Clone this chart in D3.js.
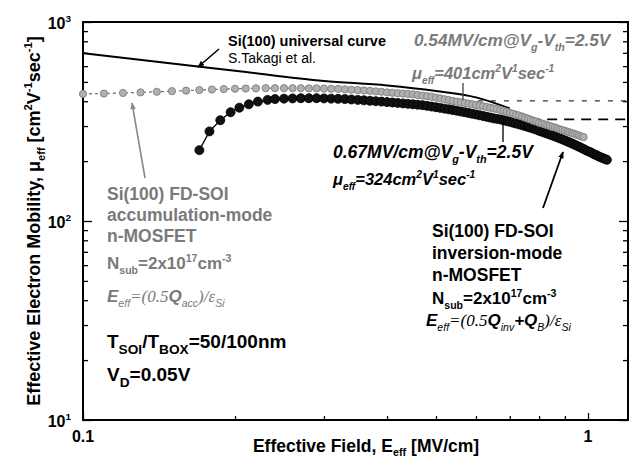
<!DOCTYPE html>
<html><head><meta charset="utf-8">
<script src="https://cdn.jsdelivr.net/npm/d3@7"></script>
<style>body{margin:0;background:#fff}svg{display:block;font-family:"Liberation Sans",Arial,sans-serif}</style>
</head><body><svg id="c" width="635" height="461"></svg>
<script>
// ---------- data ----------
const accE = [0.10,0.11,0.12,0.13,0.14,0.15,0.16,0.17,0.18,0.19,0.20,0.21,0.22,0.23,0.24,0.25,0.26,0.27,0.28,0.29,0.30,0.31,0.32,0.33,0.34,0.35,0.36,0.37,0.38,0.39,0.40,0.41,0.42,0.43,0.44,0.45,0.46,0.47,0.48,0.49,0.50,0.51,0.52,0.53,0.54,0.55,0.56,0.57,0.58,0.59,0.60,0.61,0.62,0.63,0.64,0.65,0.66,0.67,0.68,0.69,0.70,0.71,0.72,0.73,0.74,0.75,0.76,0.77,0.78,0.79,0.80,0.81,0.82,0.83,0.84,0.85,0.86,0.87,0.88,0.89,0.90,0.91,0.92,0.93,0.94,0.95,0.96,0.97,0.98];
const accMu = [435,437,440,443,446,449,452,455,458,460,462,463,464,465,465,465,465,465,464,464,463,462,461,459,457,455,453,451,448,446,443,441,439,437,435,433,430,427,424,421,417,413,409,405,401,398,395,392,389,386,383,380,377,374,371,368,365,362,358,354,350,346,342,339,335,331,327,323,319,316,312,309,306,303,300,297,295,292,289,286,284,281,279,276,274,271,269,266,264];
const invE = [0.170,0.178,0.187,0.196,0.204,0.213,0.222,0.232,0.24,0.25,0.26,0.27,0.28,0.29,0.30,0.31,0.32,0.33,0.34,0.35,0.36,0.37,0.38,0.39,0.40,0.41,0.42,0.43,0.44,0.45,0.46,0.47,0.48,0.49,0.50,0.51,0.52,0.53,0.54,0.55,0.56,0.57,0.58,0.59,0.60,0.61,0.62,0.63,0.64,0.65,0.66,0.67,0.68,0.69,0.70,0.71,0.72,0.73,0.74,0.75,0.76,0.77,0.78,0.79,0.80,0.81,0.82,0.83,0.84,0.85,0.86,0.87,0.88,0.89,0.90,0.91,0.92,0.93,0.94,0.95,0.96,0.97,0.98,0.99,1.00,1.01,1.02,1.03,1.04,1.05,1.06,1.07,1.08,1.09];
const invMu = [227,282,321,352,371,386,398,406,410,412,413,414,414,414,413,412,411,410,408,406,404,402,400,398,396,394,392,390,388,386,384,382,379,376,373,370,367,364,361,358,355,352,349,346,343,340,337,334,331,328,326,324,321,318,315,312,309,306,303,300,297,294,291,288,284,281,278,275,272,269,266,263,260,257,254,251,248,245,242,239,236,233,230,227,224,222,219,216,214,211,209,207,205,203];
const univE = [0.1,0.15,0.2,0.3,0.4,0.5,0.6,0.7];
const univMu = [698,618,569,505,480,450,418,368];
const refE = [0.54,0.67];
const refMu = [401,324];
const xTicksMajor = [0.1,1];
const xTickLabels = ["0.1","1"];
const xTicksMinor = [0.2,0.3,0.4,0.5,0.6,0.7,0.8,0.9];
const yTicksMajor = [10,100,1000];
const yTickExp = ["1","2","3"];
const yTicksMinor = [20,30,40,50,60,70,80,90,200,300,400,500,600,700,800,900];

// ---------- setup ----------
const svg = d3.select("#c");
const L=83, R=628, T=22, B=420;
const x = d3.scaleLog().domain([0.1,1.2]).range([L,R]);
const y = d3.scaleLog().domain([10,1000]).range([B,T]);
const GRAY="#7a7a7a";

function rich(sel, px, py, parts, a) {
  const fs = a.size;
  const sc = a.subScale || 0.62;
  const t = sel.append("text").attr("x",px).attr("y",py)
    .attr("font-size",fs).attr("font-weight",a.weight||"bold")
    .attr("font-style",a.style||"normal").attr("fill",a.fill||"#000")
    .attr("text-anchor",a.anchor||"start");
  if (a.transform) t.attr("transform",a.transform);
  let cur=0;
  parts.forEach(p=>{
    const s=p[0], k=p[1], st=p[2];
    const off = k==="sub"? fs*(a.subOff||0.3) : k==="sup"? -fs*0.42 : 0;
    const ts = t.append("tspan").text(s).attr("dy",off-cur);
    if (k) ts.attr("font-size",fs*sc);
    if (st) Object.keys(st).forEach(kk=>ts.attr(kk,st[kk]));
    cur=off;
  });
  return t;
}

const defs = svg.append("defs");
[["ah-black","#000"],["ah-gray","#888"]].forEach(([id,c])=>{
  defs.append("marker").attr("id",id).attr("viewBox","0 0 10 10").attr("refX",9).attr("refY",5)
    .attr("markerWidth",7).attr("markerHeight",7).attr("orient","auto-start-reverse")
    .attr("markerUnits","userSpaceOnUse")
    .append("path").attr("d","M0,1 L10,5 L0,9 Z").attr("fill",c);
});

// ---------- axes ----------
const gAx = svg.append("g");
gAx.append("g").attr("transform",`translate(${L},0)`).call(d3.axisRight(y).tickValues(yTicksMajor).tickSize(9).tickFormat(""));
gAx.append("g").attr("transform",`translate(${L},0)`).call(d3.axisRight(y).tickValues(yTicksMinor).tickSize(5).tickFormat(""));
gAx.append("g").attr("transform",`translate(${R},0)`).call(d3.axisLeft(y).tickValues(yTicksMajor).tickSize(9).tickFormat(""));
gAx.append("g").attr("transform",`translate(${R},0)`).call(d3.axisLeft(y).tickValues(yTicksMinor).tickSize(5).tickFormat(""));
gAx.append("g").attr("transform",`translate(0,${B})`).call(d3.axisTop(x).tickValues(xTicksMajor).tickSize(7).tickFormat(""));
gAx.append("g").attr("transform",`translate(0,${B})`).call(d3.axisTop(x).tickValues(xTicksMinor).tickSize(4).tickFormat(""));
gAx.selectAll(".domain").remove();
gAx.selectAll(".tick line").attr("stroke","#000").attr("stroke-width",1.3);
svg.append("rect").attr("x",L).attr("y",T).attr("width",R-L).attr("height",B-T)
  .attr("fill","none").attr("stroke","#000").attr("stroke-width",2);

// tick labels
xTicksMajor.forEach((v,i)=>{
  svg.append("text").attr("x",x(v)).attr("y",442).attr("text-anchor","middle")
    .attr("font-size",16).attr("font-weight","bold").text(xTickLabels[i]);
});
yTicksMajor.forEach((v,i)=>{
  rich(svg, 71, y(v)+7, [["10"],[yTickExp[i],"sup"]], {size:16, anchor:"end", weight:"bold"});
});

// axis titles
rich(svg, 366, 452, [["Effective Field, E"],["eff","sub"],[" [MV/cm]"]], {size:17.5, anchor:"middle", subOff:0.22});
rich(svg, 0, 0, [["Effective Electron Mobility, μ"],["eff","sub"],[" [cm"],["2","sup"],["V"],["-1","sup"],["sec"],["-1","sup"],["]"]],
  {size:18, anchor:"middle", transform:"translate(40,221) rotate(-90)"});

// ---------- reference dashed lines ----------
svg.append("line").attr("x1",x(refE[0])+25).attr("x2",R).attr("y1",y(refMu[0])).attr("y2",y(refMu[0]))
  .attr("stroke","#333").attr("stroke-width",1.2).attr("stroke-dasharray","5,8");
svg.append("line").attr("x1",x(refE[1])+30).attr("x2",R).attr("y1",y(refMu[1])).attr("y2",y(refMu[1]))
  .attr("stroke","#000").attr("stroke-width",1.8).attr("stroke-dasharray","10,7");

// ---------- universal curve ----------
const line = d3.line().x(d=>x(d[0])).y(d=>y(d[1])).curve(d3.curveMonotoneX);
svg.append("path").datum(univE.map((e,i)=>[e,univMu[i]])).attr("d",line)
  .attr("fill","none").attr("stroke","#000").attr("stroke-width",2);

// ---------- inversion-mode (black) ----------
const inv = invE.map((e,i)=>[e,invMu[i]]);
svg.append("path").datum(inv).attr("d",d3.line().x(d=>x(d[0])).y(d=>y(d[1])))
  .attr("fill","none").attr("stroke","#000").attr("stroke-width",1.3);
svg.append("g").selectAll("circle").data(inv).join("circle")
  .attr("cx",d=>x(d[0])).attr("cy",d=>y(d[1])).attr("r",4.5)
  .attr("fill","#111").attr("stroke","#000").attr("stroke-width",0.8);

// ---------- accumulation-mode (gray) ----------
const acc = accE.map((e,i)=>[e,accMu[i]]);
svg.append("path").datum(acc).attr("d",d3.line().x(d=>x(d[0])).y(d=>y(d[1])))
  .attr("fill","none").attr("stroke","#777").attr("stroke-width",1.3).attr("stroke-dasharray","3,3");
svg.append("g").selectAll("circle").data(acc).join("circle")
  .attr("cx",d=>x(d[0])).attr("cy",d=>y(d[1])).attr("r",3.6)
  .attr("fill","#b0b0b0").attr("stroke","#858585").attr("stroke-width",1);

// ---------- annotations ----------
// universal curve label
svg.append("text").attr("x",228).attr("y",46).attr("font-size",14.5).attr("font-weight","bold").text("Si(100) universal curve");
svg.append("text").attr("x",228).attr("y",63).attr("font-size",14).text("S.Takagi et al.");
svg.append("line").attr("x1",219).attr("y1",49).attr("x2",198).attr("y2",67)
  .attr("stroke","#000").attr("stroke-width",1.6).attr("marker-end","url(#ah-black)");

// 0.54 MV/cm annotation (gray)
rich(svg, 414, 46, [["0.54MV/cm@V"],["g","sub"],["-V"],["th","sub"],["=2.5V"]], {size:17.2, style:"italic", fill:GRAY});
rich(svg, 412, 79, [["μ"],["eff","sub"],["=401cm"],["2","sup"],["V"],["1","sup"],["sec"],["-1","sup"]], {size:16.5, style:"italic", fill:GRAY});
svg.append("line").attr("x1",463).attr("x2",463).attr("y1",83).attr("y2",100).attr("stroke","#444").attr("stroke-width",1.3);

// 0.67 MV/cm annotation (black)
rich(svg, 333, 158, [["0.67MV/cm@V"],["g","sub"],["-V"],["th","sub"],["=2.5V"]], {size:17.5, style:"italic"});
rich(svg, 333, 185, [["μ"],["eff","sub"],["=324cm"],["2","sup"],["V"],["1","sup"],["sec"],["-1","sup"]], {size:16.5, style:"italic"});
svg.append("line").attr("x1",503).attr("x2",503).attr("y1",122).attr("y2",142).attr("stroke","#000").attr("stroke-width",1.3);

// left block (accumulation, gray)
const lx=107;
[["Si(100) FD-SOI",200],["accumulation-mode",221],["n-MOSFET",242]].forEach(([s,yy])=>{
  svg.append("text").attr("x",lx).attr("y",yy).attr("font-size",17.5).attr("font-weight","bold").attr("fill",GRAY).text(s);
});
rich(svg, lx, 269, [["N"],["sub","sub"],["=2x10"],["17","sup"],["cm"],["-3","sup"]], {size:17, fill:GRAY});
rich(svg, lx, 302, [["E",null,{"font-weight":"bold"}],["eff","sub"],["=(0.5",null,{"font-family":"Liberation Serif"}],["Q",null,{"font-weight":"bold"}],["acc","sub"],[")/ε",null,{"font-family":"Liberation Serif"}],["Si","sub"]],
  {size:17, style:"italic", weight:"normal", fill:GRAY});
rich(svg, lx, 348, [["T"],["SOI","sub"],["/T"],["BOX","sub"],["=50/100nm"]], {size:19, subScale:0.72});
rich(svg, lx, 381, [["V"],["D","sub"],["=0.05V"]], {size:19, subScale:0.72});
svg.append("line").attr("x1",145).attr("y1",178).attr("x2",132).attr("y2",103)
  .attr("stroke","#888").attr("stroke-width",1.6).attr("marker-end","url(#ah-gray)");

// right block (inversion, black)
const rx=432;
[["Si(100) FD-SOI",237],["inversion-mode",259],["n-MOSFET",281]].forEach(([s,yy])=>{
  svg.append("text").attr("x",rx).attr("y",yy).attr("font-size",17.5).attr("font-weight","bold").text(s);
});
rich(svg, rx, 304, [["N"],["sub","sub"],["=2x10"],["17","sup"],["cm"],["-3","sup"]], {size:17});
rich(svg, 426, 326, [["E",null,{"font-weight":"bold"}],["eff","sub"],["=(0.5",null,{"font-family":"Liberation Serif"}],["Q",null,{"font-weight":"bold"}],["inv","sub"],["+Q",null,{"font-weight":"bold"}],["B","sub"],[")/ε",null,{"font-family":"Liberation Serif"}],["Si","sub"]],
  {size:17, style:"italic", weight:"normal"});
svg.append("line").attr("x1",543).attr("y1",208).attr("x2",563).attr("y2",152)
  .attr("stroke","#000").attr("stroke-width",1.8).attr("marker-end","url(#ah-black)");
</script></body></html>
